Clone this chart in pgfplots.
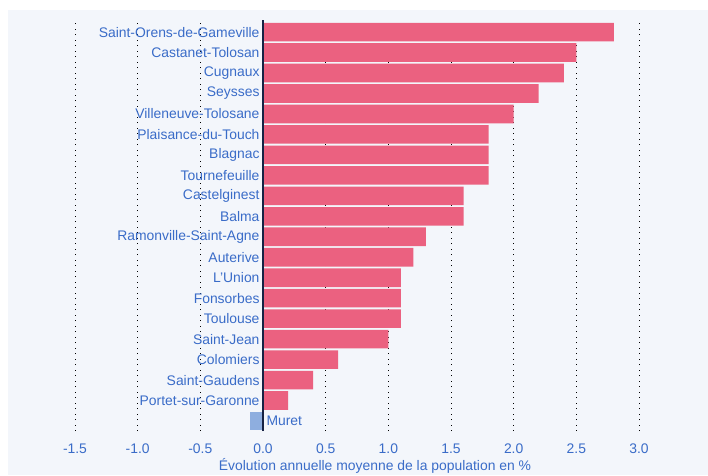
\documentclass[border=0pt]{standalone}
\usepackage{fontspec}
\setmainfont{Liberation Sans}
\usepackage{pgfplots}
\pgfplotsset{compat=1.18}
\definecolor{bg}{RGB}{243,246,251}
\definecolor{barpink}{RGB}{235,97,128}
\definecolor{barblue}{RGB}{142,174,223}
\definecolor{txtblue}{RGB}{58,108,200}
\definecolor{zeroline}{RGB}{22,34,68}
\begin{document}
\begin{tikzpicture}
\useasboundingbox (0pt,0pt) rectangle (708pt,475pt);
\path[fill=white] (0pt,0pt) rectangle (708pt,475pt);
\fill[bg] (8pt,0pt) rectangle (708pt,465pt);
\begin{axis}[
  at={(75pt,43.76pt)}, anchor=south west,
  scale only axis,
  width=564pt, height=411.45pt,
  xmin=-1.5, xmax=3.0,
  ymin=-0.5, ymax=19.6,
  axis line style={draw=none},
  major tick length=0pt,
  xtick={-1.5,-1,-0.5,0,0.5,1,1.5,2,2.5,3},
  xticklabel style={/pgf/number format/fixed, /pgf/number format/fixed zerofill, /pgf/number format/precision=1, /pgf/number format/assume math mode=true, yshift=-9pt},
  xmajorgrids,
  grid style={black, line width=0.9pt, dash pattern=on 0.9pt off 4.6pt},
  ytick={0,...,19},
  yticklabels={,Portet-sur-Garonne,Saint-Gaudens,Colomiers,Saint-Jean,Toulouse,Fonsorbes,L'Union,Auterive,Ramonville-Saint-Agne,Balma,Castelginest,Tournefeuille,Blagnac,Plaisance-du-Touch,Villeneuve-Tolosane,Seysses,Cugnaux,Castanet-Tolosan,Saint-Orens-de-Gameville},
  yticklabel style={xshift=188pt},
  tick label style={font=\fontsize{13.9}{16}\selectfont, text=txtblue},
  xlabel={Évolution annuelle moyenne de la population en \%},
  xlabel style={font=\fontsize{13.9}{16}\selectfont, text=txtblue, xshift=18pt, yshift=2pt},
  xbar, bar width=18.6pt,
]
\addplot[xbar, bar shift=0pt, fill=barpink, draw=none] coordinates {
  (2.8,19) (2.5,18) (2.4,17) (2.2,16) (2.0,15) (1.8,14) (1.8,13) (1.8,12)
  (1.6,11) (1.6,10) (1.3,9) (1.2,8) (1.1,7) (1.1,6) (1.1,5) (1.0,4)
  (0.6,3) (0.4,2) (0.2,1)
};
\addplot[xbar, bar shift=0pt, fill=barblue, draw=none] coordinates {(-0.1,0)};
\addplot[sharp plot, zeroline, line width=1.2pt, forget plot] coordinates {(0,-0.5) (0,19.6)};
\node[anchor=west, text=txtblue, font=\fontsize{13.9}{16}\selectfont] at (axis cs:0,0) {Muret};
\end{axis}
\end{tikzpicture}
\end{document}
